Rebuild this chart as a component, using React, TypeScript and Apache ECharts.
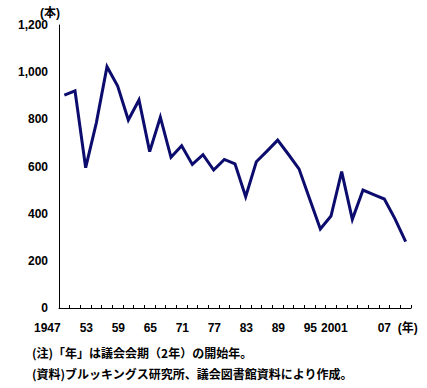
import React, { useEffect, useRef } from "react";
import * as echarts from "echarts";

// Congress start years (2-year sessions)
const years: string[] = [
  "1947", "1949", "1951", "1953", "1955", "1957", "1959", "1961", "1963", "1965", "1967",
  "1969", "1971", "1973", "1975", "1977", "1979", "1981", "1983", "1985", "1987", "1989",
  "1991", "1993", "1995", "1997", "1999", "2001", "2003", "2005", "2007", "2009", "2011",
];

// Number of bills (本)
const bills: number[] = [
  903, 921, 595, 785, 1023, 941, 797, 882, 663, 809, 639,
  688, 609, 650, 585, 630, 611, 472, 620, 665, 712, 652,
  590, 462, 335, 390, 578, 376, 500, 481, 462, 378, 281,
];

// Tick labels shown under the category axis
const tickLabels: string[] = [
  "1947", "", "", "53", "", "", "59", "", "", "65", "",
  "", "71", "", "", "77", "", "", "83", "", "", "89",
  "", "", "95", "", "", "2001", "", "", "07", "", "(年)",
];

const yTicks = { min: 0, max: 1200, interval: 200 };
const yUnit = "(本)";
const notes: string[] = [
  "(注)「年」は議会会期（2年）の開始年。",
  "(資料)ブルッキングス研究所、議会図書館資料により作成。",
];

// horizontal label nudges (style only, px; negative = left)
const labelShift = (i: number): number => {
  if (i === 0) return -17;
  if (i === 27) return -18;
  if (i === 30) return 0;
  if (i === 32) return 2;
  return -10;
};

const FONT = "'Liberation Sans', Arial, 'Noto Sans CJK JP', sans-serif";

export default function App() {
  const ref = useRef<HTMLDivElement>(null);
  useEffect(() => {
    if (!ref.current) return;
    const chart = echarts.init(ref.current, undefined, { renderer: "svg" });

    const rich: Record<string, any> = {};
    tickLabels.forEach((t, i) => {
      const d = labelShift(i);
      rich["s" + i] = {
        fontFamily: FONT,
        fontWeight: "bold",
        fontSize: 12,
        color: "#000",
        padding: d < 0 ? [0, -2 * d, 0, 0] : [0, 0, 0, 2 * d],
      };
    });

    chart.setOption({
      animation: false,
      backgroundColor: "#fff",
      grid: { left: 59, top: 25, right: 16, bottom: 80, containLabel: false },
      xAxis: {
        type: "category",
        data: years,
        boundaryGap: true,
        axisLine: { show: true, lineStyle: { color: "#000", width: 1 } },
        axisTick: { show: true, inside: true, length: 3, lineStyle: { color: "#000" } },
        axisLabel: {
          interval: 0,
          margin: 14,
          formatter: (_v: string, i: number) => (tickLabels[i] ? `{s${i}|${tickLabels[i]}}` : ""),
          rich,
        },
        splitLine: { show: false },
      },
      yAxis: {
        type: "value",
        min: yTicks.min,
        max: yTicks.max,
        interval: yTicks.interval,
        name: yUnit,
        nameLocation: "end",
        nameGap: 6,
        nameTextStyle: {
          fontFamily: FONT,
          fontWeight: "bold",
          fontSize: 12,
          color: "#000",
          align: "center",
          verticalAlign: "bottom",
          padding: [0, 18, 0, 0],
        },
        axisLine: { show: true, lineStyle: { color: "#000", width: 1 } },
        axisTick: { show: false },
        axisLabel: {
          margin: 11,
          fontFamily: FONT,
          fontWeight: "bold",
          fontSize: 12,
          color: "#000",
        },
        splitLine: { show: false },
      },
      series: [
        {
          type: "line",
          data: bills,
          showSymbol: false,
          symbol: "none",
          lineStyle: { color: "#0c0c6e", width: 3, join: "miter" },
        },
      ],
      graphic: notes.map((t, i) => ({
        type: "text",
        left: 32,
        top: 346 + i * 21,
        style: {
          text: t,
          fontFamily: "'Noto Sans CJK JP', sans-serif",
          fontWeight: "bold",
          fontSize: 12,
          fill: "#000",
        },
      })),
    });
    return () => chart.dispose();
  }, []);
  return (
    <div
      ref={ref}
      style={{ position: "fixed", left: 0, top: 0, width: 427, height: 388, background: "#fff" }}
    />
  );
}
